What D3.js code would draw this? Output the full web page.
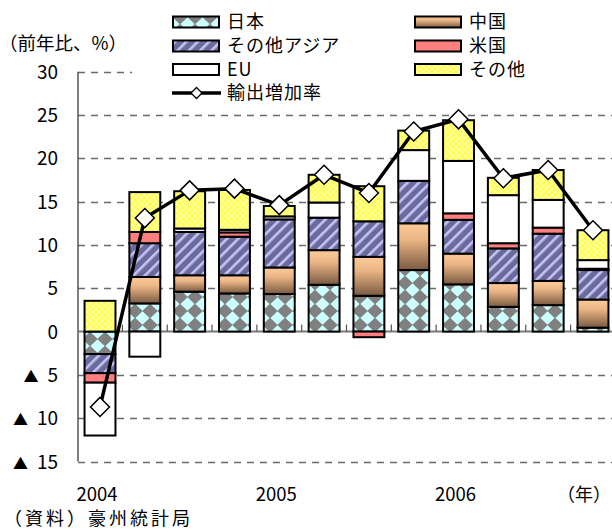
<!DOCTYPE html>
<html>
<head>
<meta charset="utf-8">
<script src="https://cdn.jsdelivr.net/npm/d3@7"></script>
<style>
  html, body { margin: 0; padding: 0; background: #fff; }
  svg { display: block; }
  text { font-family: "Noto Sans CJK JP", "Noto Sans", sans-serif; fill: #000; }
</style>
</head>
<body>
<svg id="chart" width="612" height="532"></svg>
<script>
// ---------------- data ----------------
const categories = ["2004Q1","2004Q2","2004Q3","2004Q4","2005Q1","2005Q2","2005Q3","2005Q4","2006Q1","2006Q2","2006Q3","2006Q4"];
const japan     = [-2.6, 3.25, 4.6, 4.4, 4.33, 5.4, 4.13, 7.1, 5.45, 2.85, 3.05, 0.45];
const china     = [0, 3.05, 1.9, 2.1, 3.07, 4.0, 4.5, 5.4, 3.55, 2.75, 2.8, 3.25];
const otherAsia = [-2.2, 3.9, 5.0, 4.45, 5.55, 3.75, 4.1, 4.9, 3.9, 4.0, 5.45, 3.4];
const us        = [-1.1, 1.3, 0, 0.5, 0, 0, -0.65, 0, 0.75, 0.6, 0.7, 0.15];
const eu        = [-6.1, -2.9, 0.4, 0.3, 0.35, 1.75, 0, 3.55, 6.05, 5.55, 3.2, 1.0];
const other     = [3.55, 4.6, 4.3, 4.6, 1.2, 3.2, 4.05, 2.25, 4.7, 2.0, 3.45, 3.45];
const growth    = [-8.7, 13.1, 16.3, 16.5, 14.6, 18.1, 16.0, 23.1, 24.5, 17.7, 18.65, 11.7];

const seriesNames = ["日本", "中国", "その他アジア", "米国", "EU", "その他"];
const lineName = "輸出増加率";
const yTickValues = [30, 25, 20, 15, 10, 5, 0, -5, -10, -15];
const yTickLabels = ["30", "25", "20", "15", "10", "5", "0", "▲ 5", "▲ 10", "▲ 15"];
const xTickLabels = ["2004", "", "", "", "2005", "", "", "", "2006", "", "", "（年）"];
const yTitle = "（前年比、%）";
const sourceNote = "（資料）豪州統計局";

// ---------------- setup ----------------
const svg = d3.select("#chart");
const defs = svg.append("defs");

// Japan: grey with cyan diamonds
const pJ = defs.append("pattern").attr("id", "pJapan").attr("patternUnits", "userSpaceOnUse")
  .attr("width", 15).attr("height", 14).attr("x", 0).attr("y", 3);
pJ.append("rect").attr("width", 15).attr("height", 14).attr("fill", "#808080");
pJ.append("path").attr("d", "M7.5,0.3 L14.6,7 L7.5,13.7 L0.4,7 Z").attr("fill", "#ccffff");

// China: vertical gradient
const gC = defs.append("linearGradient").attr("id", "gChina").attr("x1", 0).attr("y1", 0).attr("x2", 0).attr("y2", 1);
gC.append("stop").attr("offset", "0%").attr("stop-color", "#fccb99");
gC.append("stop").attr("offset", "35%").attr("stop-color", "#eab585");
gC.append("stop").attr("offset", "100%").attr("stop-color", "#7a5a42");

// Other Asia: slate with lavender diagonal stripes
const pA = defs.append("pattern").attr("id", "pAsia").attr("patternUnits", "userSpaceOnUse")
  .attr("width", 8).attr("height", 8).attr("patternTransform", "rotate(45)");
pA.append("rect").attr("width", 8).attr("height", 8).attr("fill", "#6a6a9c");
pA.append("rect").attr("x", 0).attr("width", 2.6).attr("height", 8).attr("fill", "#c4c4f4");

// Other: yellow with light crosshatch
const pO = defs.append("pattern").attr("id", "pOther").attr("patternUnits", "userSpaceOnUse")
  .attr("width", 6).attr("height", 6);
pO.append("rect").attr("width", 6).attr("height", 6).attr("fill", "#ffff55");
pO.append("path").attr("d", "M0,3 L3,0 L6,3 L3,6 Z").attr("fill", "none").attr("stroke", "#ffffbb").attr("stroke-width", 1);

const fills = ["url(#pJapan)", "url(#gChina)", "url(#pAsia)", "#ff7f7f", "#ffffff", "url(#pOther)"];

// ---------------- scales ----------------
const x = d3.scaleBand().domain(categories).range([77.6, 615.4]).paddingInner(0.31).paddingOuter(0.155);
const y = d3.scaleLinear().domain([-15, 30]).range([461.5, 71.7]);
const axisX = 78;

// ---------------- grid ----------------
const grid = svg.append("g");
grid.selectAll("line.g").data(yTickValues.filter(v => v !== 0)).join("line")
  .attr("x1", axisX).attr("x2", 612)
  .attr("y1", d => Math.round(y(d)) + 0.5).attr("y2", d => Math.round(y(d)) + 0.5)
  .attr("stroke", "#6a6a6a").attr("stroke-width", 1.5).attr("stroke-dasharray", "7,6");

// y axis line
svg.append("line").attr("x1", axisX).attr("x2", axisX).attr("y1", y(30)).attr("y2", y(-15))
  .attr("stroke", "#555").attr("stroke-width", 1.5);

// zero line
svg.append("line").attr("x1", axisX).attr("x2", 612).attr("y1", y(0)).attr("y2", y(0))
  .attr("stroke", "#7a7a7a").attr("stroke-width", 2);

// category boundary ticks pointing up from zero line
const step = x.step();
svg.append("g").selectAll("line").data(categories.slice(1)).join("line")
  .attr("x1", d => x(d) - step * x.paddingInner() / 2).attr("x2", d => x(d) - step * x.paddingInner() / 2)
  .attr("y1", y(0)).attr("y2", y(0) - 7)
  .attr("stroke", "#555").attr("stroke-width", 1.2);

// ---------------- stacked bars ----------------
const table = categories.map((c, i) => ({
  cat: c, japan: japan[i], china: china[i], otherAsia: otherAsia[i], us: us[i], eu: eu[i], other: other[i]
}));
const keys = ["japan", "china", "otherAsia", "us", "eu", "other"];
const stacked = d3.stack().keys(keys).offset(d3.stackOffsetDiverging)(table);

const barsG = svg.append("g");
stacked.forEach((s, si) => {
  barsG.append("g").selectAll("rect")
    .data(s.filter(d => Math.abs(d[1] - d[0]) > 1e-9))
    .join("rect")
    .attr("x", d => x(d.data.cat))
    .attr("width", x.bandwidth())
    .attr("y", d => y(Math.max(d[0], d[1])))
    .attr("height", d => Math.abs(y(d[0]) - y(d[1])))
    .attr("fill", fills[si])
    .attr("stroke", "#000").attr("stroke-width", 2);
});

// ---------------- growth line ----------------
const line = d3.line().x((d, i) => x(categories[i]) + x.bandwidth() / 2).y(d => y(d));
svg.append("path").datum(growth).attr("d", line)
  .attr("fill", "none").attr("stroke", "#000").attr("stroke-width", 3.5).attr("stroke-linejoin", "round");
const diamond = r => `M0,${-r} L${r},0 L0,${r} L${-r},0 Z`;
svg.append("g").selectAll("path").data(growth).join("path")
  .attr("transform", (d, i) => `translate(${x(categories[i]) + x.bandwidth() / 2},${y(d)})`)
  .attr("d", diamond(9.5))
  .attr("fill", "#fff").attr("stroke", "#000").attr("stroke-width", 1.5);

// ---------------- axes labels ----------------
const yAxis = d3.axisLeft(y).tickValues(yTickValues).tickSize(0).tickPadding(20)
  .tickFormat((d, i) => yTickLabels[i]);
const yG = svg.append("g").attr("transform", `translate(${axisX},0)`).call(yAxis);
yG.select(".domain").remove();
yG.selectAll("text").attr("font-size", 19).attr("font-family", '"Noto Sans CJK JP", sans-serif')
  .attr("dy", "0.35em").attr("x", -20)
  .each(function () {
    const s = d3.select(this);
    const parts = s.text().split(" ");
    if (parts.length > 1) {
      s.text(null);
      s.append("tspan").attr("font-size", 15).text(parts[0]);
      s.append("tspan").attr("dx", 9).text(parts[1]);
    }
  });

const xAxis = d3.axisBottom(x).tickSize(0).tickPadding(0).tickFormat((d, i) => xTickLabels[i]);
const xG = svg.append("g").attr("transform", `translate(0,495)`).call(xAxis);
xG.select(".domain").remove();
xG.selectAll("text").attr("font-size", 18.5).attr("dy", "0.35em").attr("y", 0)
  .attr("dx", -3);
// keep the final "(年)" label inside the canvas
xG.selectAll("text").filter((d, i) => i === categories.length - 1)
  .attr("text-anchor", "end").attr("x", 0).attr("dx", 0)
  .attr("transform", function (d) { return `translate(${611 - (x(d) + x.bandwidth() / 2)},0)`; })
  .attr("font-size", 18);

// y title
svg.append("text").attr("x", -1).attr("y", 44).attr("dy", "0.35em").attr("font-size", 18.5).text(yTitle);

// source note
svg.append("text").attr("x", 4).attr("y", 519).attr("dy", "0.35em").attr("font-size", 18)
  .attr("letter-spacing", 3).text(sourceNote);

// ---------------- legend ----------------
const lg = svg.append("g");
lg.append("rect").attr("x", 132).attr("y", 0).attr("width", 480).attr("height", 106).attr("fill", "#fff");
const legendItems = [
  { name: seriesNames[0], fill: fills[0], col: 0, row: 0 },
  { name: seriesNames[2], fill: fills[2], col: 0, row: 1 },
  { name: seriesNames[4], fill: fills[4], col: 0, row: 2 },
  { name: seriesNames[1], fill: fills[1], col: 1, row: 0 },
  { name: seriesNames[3], fill: fills[3], col: 1, row: 1 },
  { name: seriesNames[5], fill: fills[5], col: 1, row: 2 }
];
const rowY = [22, 46, 69.5, 93];
const colX = [173, 415];
legendItems.forEach(it => {
  const cy = rowY[it.row];
  lg.append("rect").attr("x", colX[it.col]).attr("y", cy - 5.5).attr("width", 46).attr("height", 11)
    .attr("fill", it.fill).attr("stroke", "#000").attr("stroke-width", 2);
  lg.append("text").attr("x", colX[it.col] + 54).attr("y", cy).attr("dy", "0.36em")
    .attr("font-size", 18).attr("letter-spacing", 1).text(it.name);
});
lg.append("line").attr("x1", 172).attr("x2", 221).attr("y1", rowY[3]).attr("y2", rowY[3])
  .attr("stroke", "#000").attr("stroke-width", 3.5);
lg.append("path").attr("transform", `translate(196.5,${rowY[3]})`).attr("d", diamond(5.5))
  .attr("fill", "#fff").attr("stroke", "#000").attr("stroke-width", 1.3);
lg.append("text").attr("x", 227).attr("y", rowY[3]).attr("dy", "0.36em")
  .attr("font-size", 18).attr("letter-spacing", 1).text(lineName);
</script>
</body>
</html>
